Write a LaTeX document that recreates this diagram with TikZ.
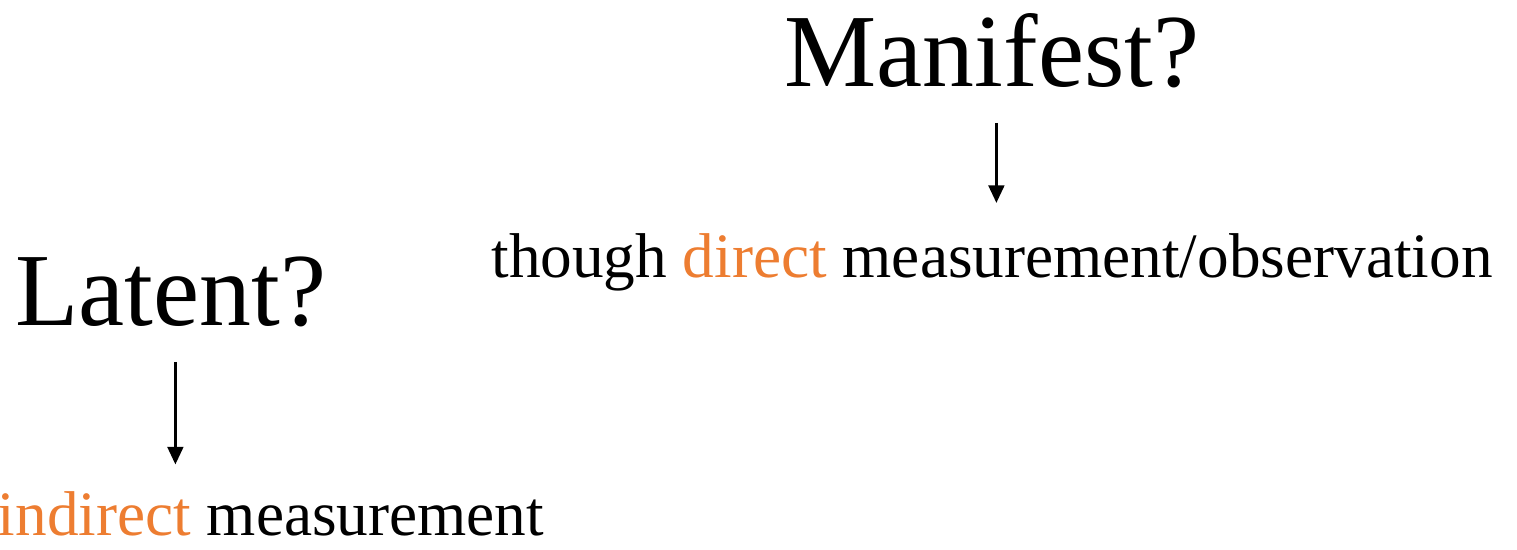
\documentclass[tikz,border=0pt]{standalone}
\usepackage{fontspec}
\setmainfont{Liberation Serif}
\usetikzlibrary{arrows.meta}
\definecolor{accent}{HTML}{ED7D31}

\begin{document}
\begin{tikzpicture}[x=0.02cm, y=-0.02cm,
	big/.style={anchor=base, inner sep=0pt, font=\fontsize{59}{70}\selectfont},
	small/.style={anchor=base, inner sep=0pt, font=\fontsize{36}{43}\selectfont},
	pointer/.style={-{Triangle[width=9pt, length=10pt]}, line width=1.4pt}]
	% Frame, words and arrows:
	\useasboundingbox (0, 0) rectangle (1517, 549);
	\node[big] (manifest) at (992, 86){Manifest?};
	\node[small] (obs) at (992, 277){though \textcolor{accent}{direct} measurement/observation};
	\node[big] (latent) at (171, 325){Latent?};
	\node[small] (indirect) at (271, 535){\textcolor{accent}{indirect} measurement};
	\draw[pointer, shorten <=20pt, shorten >=17pt] ([xshift=2.5pt]manifest.south) -- ([xshift=2.5pt]obs.north);
	\draw[pointer, shorten <=20pt, shorten >=15pt] ([xshift=2.5pt]latent.south) -- ([xshift=2.5pt]latent.south |- indirect.north);
\end{tikzpicture}
\end{document}
